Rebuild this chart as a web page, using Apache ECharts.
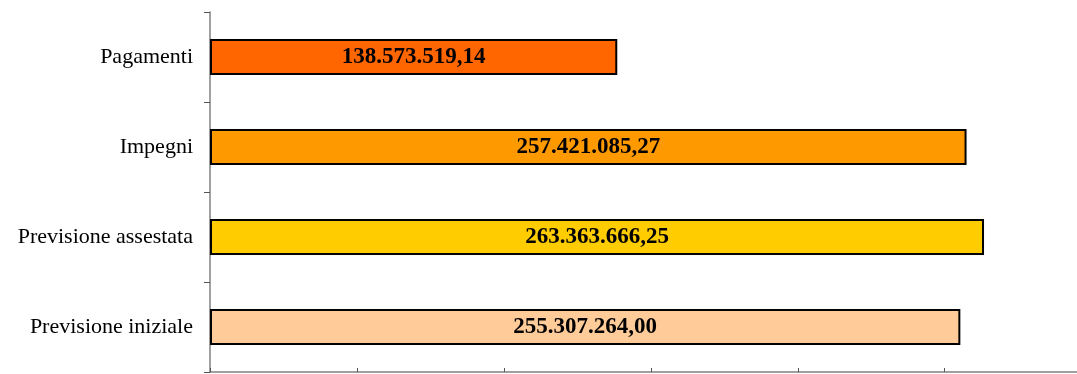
<!DOCTYPE html>
<html>
<head>
<meta charset="utf-8">
<script src="https://cdn.jsdelivr.net/npm/echarts@6/dist/echarts.min.js"></script>
<style>
html,body{margin:0;padding:0;background:#fff;}
#chart{width:1077px;height:374px;}
</style>
</head>
<body>
<div id="chart"></div>
<script>
const categories = ["Previsione iniziale", "Previsione assestata", "Impegni", "Pagamenti"];
const values = [255307264.00, 263363666.25, 257421085.27, 138573519.14];
const barColors = ["#FFCC99", "#FFCC00", "#FF9900", "#FF6600"];

function fmtIt(v) {
  const parts = v.toFixed(2).split(".");
  const intPart = parts[0].replace(/\B(?=(\d{3})+(?!\d))/g, ".");
  return intPart + "," + parts[1];
}

const chart = echarts.init(document.getElementById("chart"), null, {renderer: "canvas"});
chart.setOption({
  animation: false,
  backgroundColor: "#ffffff",
  grid: {left: 210, right: 0, top: 12, bottom: 2, containLabel: false},
  xAxis: {
    type: "value",
    min: 0, max: 295000000, interval: 50000000,
    axisLine: {show: true, lineStyle: {color: "#808080", width: 1.5}},
    axisTick: {show: true, inside: true, length: 4, lineStyle: {color: "#555", width: 1}},
    axisLabel: {show: false},
    splitLine: {show: false}
  },
  yAxis: {
    type: "category",
    data: categories,
    axisLine: {show: true, lineStyle: {color: "#808080", width: 1.5}},
    axisTick: {show: true, inside: false, length: 6, alignWithLabel: false, lineStyle: {color: "#555", width: 1}},
    axisLabel: {
      margin: 17,
      color: "#000",
      fontFamily: "Liberation Serif",
      fontSize: 22
    },
    splitLine: {show: false}
  },
  series: [{
    type: "bar",
    barWidth: "40%",
    data: values.map((v, i) => ({value: v, itemStyle: {color: barColors[i]}})),
    itemStyle: {borderColor: "#000", borderWidth: 2},
    label: {
      show: true,
      position: "inside",
      color: "#000",
      fontFamily: "Liberation Serif",
      fontWeight: "bold",
      fontSize: 23,
      formatter: p => fmtIt(p.value)
    }
  }]
});
</script>
</body>
</html>
